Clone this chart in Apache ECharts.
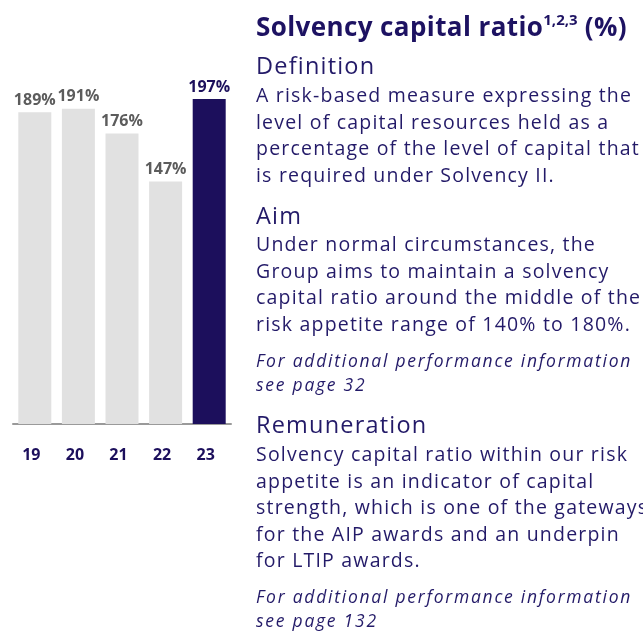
<!DOCTYPE html>
<html>
<head>
<meta charset="utf-8">
<script src="https://cdn.jsdelivr.net/npm/echarts@6/dist/echarts.min.js"></script>
<style>
  html, body { margin: 0; padding: 0; background: #fff; }
  #wrap { position: relative; width: 643px; height: 633px; overflow: hidden; }
  #main { position: absolute; left: 0; top: 0; width: 643px; height: 633px; }
  .txt { position: absolute; left: 256px; white-space: nowrap; color: #231a68; font-family: "Open Sans", sans-serif; }
  .ttl { font-weight: 700; font-size: 26px; color: #1d1262; letter-spacing: 0.4px; }
  .ttl sup { font-size: 15px; vertical-align: 0; position: relative; top: -11px; letter-spacing: 0; }
  .hd { font-size: 23.5px; letter-spacing: 1.2px; }
  .bd { font-size: 19.5px; line-height: 26.5px; letter-spacing: 1.2px; }
  .it { font-size: 17.5px; line-height: 23.5px; font-style: italic; letter-spacing: 1.75px; }
</style>
</head>
<body>
<div id="wrap">
  <div id="main"></div>
  <div class="txt ttl" style="top:8px">Solvency capital ratio<sup>1,2,3</sup> (%)</div>
  <div class="txt hd" style="top:49px">Definition</div>
  <div class="txt bd" style="top:82px">A risk-based measure expressing the<br>level of capital resources held as a<br>percentage of the level of capital that<br>is required under Solvency II.</div>
  <div class="txt hd" style="top:199px">Aim</div>
  <div class="txt bd" style="top:231px">Under normal circumstances, the<br>Group aims to maintain a solvency<br>capital ratio around the middle of the<br>risk appetite range of 140% to 180%.</div>
  <div class="txt it" style="top:349px">For additional performance information<br>see page 32</div>
  <div class="txt hd" style="top:408px">Remuneration</div>
  <div class="txt bd" style="top:441px">Solvency capital ratio within our risk<br>appetite is an indicator of capital<br>strength, which is one of the gateways<br>for the AIP awards and an underpin<br>for LTIP awards.</div>
  <div class="txt it" style="top:585px">For additional performance information<br>see page 132</div>
</div>
<script>
const years = ['19', '20', '21', '22', '23'];
const ratios = [189, 191, 176, 147, 197];
const highlightIndex = 4;

const navy = '#1c0f5c';
const grey = '#e1e1e1';

const chart = echarts.init(document.getElementById('main'));

chart.setOption({
  animation: false,
  grid: { left: 13, top: 94, width: 218, height: 330 },
  xAxis: {
    type: 'category',
    data: years,
    axisLine: { lineStyle: { color: '#9a9a9a', width: 2 } },
    axisTick: { show: false },
    axisLabel: {
      margin: 23,
      padding: [0, 7, 0, 0],
      color: navy,
      fontWeight: 'bold',
      fontSize: 16,
      fontFamily: 'Open Sans'
    }
  },
  yAxis: {
    type: 'value',
    min: 0,
    max: 200,
    show: false
  },
  series: [{
    type: 'bar',
    barWidth: 33,
    data: ratios.map((v, i) => ({
      value: v,
      itemStyle: { color: i === highlightIndex ? navy : grey },
      label: { color: i === highlightIndex ? navy : '#5c5c5c' }
    })),
    label: {
      show: true,
      position: 'top',
      distance: 4,
      formatter: '{c}%',
      fontWeight: 'bold',
      fontSize: 16,
      fontFamily: 'Open Sans'
    }
  }]
});
</script>
</body>
</html>
